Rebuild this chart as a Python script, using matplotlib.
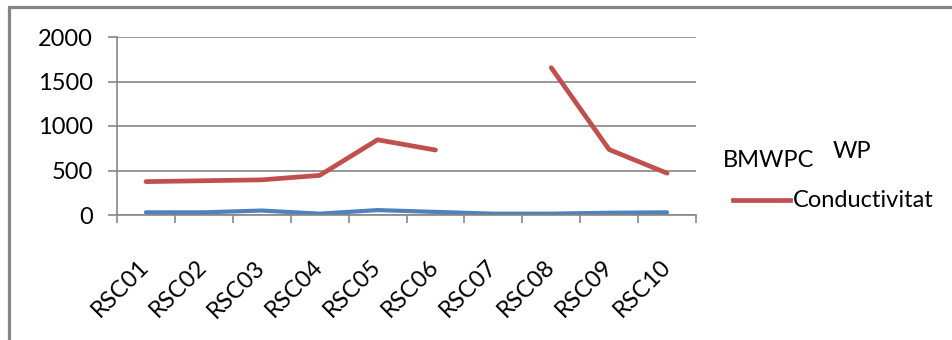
import numpy as np
import matplotlib
matplotlib.use("Agg")
import matplotlib.pyplot as plt
from matplotlib.lines import Line2D
from matplotlib.patches import Rectangle

sites = ["RSC01", "RSC02", "RSC03", "RSC04", "RSC05",
         "RSC06", "RSC07", "RSC08", "RSC09", "RSC10"]
bmwpc = [30, 30, 50, 15, 55, 35, 15, 15, 25, 30]
conductivitat = [375, 385, 395, 445, 845, 730, np.nan, 1655, 735, 470]
yticks = [0, 500, 1000, 1500, 2000]

W, H = 952, 340
GREY = "#868686"
RED = "#C0504D"
BLUE = "#4F81BD"
FS = 17

plt.rcParams["font.family"] = ["Lato", "DejaVu Sans"]

fig = plt.figure(figsize=(W / 100, H / 100), dpi=100)
ax = fig.add_axes([117 / W, 1 - 215 / H, (696 - 117) / W, (215 - 37) / H])

x = np.arange(len(sites))
ax.plot(x, bmwpc, color=BLUE, lw=3.0, solid_capstyle="round")
ax.plot(x, conductivitat, color=RED, lw=3.4, solid_capstyle="round")

ax.set_xlim(-0.5, len(sites) - 0.5)
ax.set_ylim(0, 2000)
ax.set_yticks(yticks)
ax.set_yticklabels([str(v) for v in yticks], fontsize=FS)
ax.yaxis.grid(True, color=GREY, lw=1.2)
ax.set_axisbelow(True)

ax.set_xticks(x)
ax.set_xticklabels(sites, fontsize=FS, rotation=45, ha="right",
                   va="center", rotation_mode="anchor")
ax.set_xticks(np.arange(-0.5, len(sites)), minor=True)
ax.tick_params(axis="x", which="major", length=0, pad=35)
ax.tick_params(axis="x", which="minor", length=6, width=1.2, color=GREY)
ax.tick_params(axis="y", length=6.5, width=1.2, color=GREY, pad=11)

for side in ("top", "right"):
    ax.spines[side].set_visible(False)
for side in ("left", "bottom"):
    ax.spines[side].set_color(GREY)
    ax.spines[side].set_linewidth(1.2)

# legend drawn by hand: two text-only entries and the conductivity line
fig.text(723 / W, 1 - 167 / H, "BMWPC", fontsize=FS, va="baseline")
fig.text(833 / W, 1 - 158 / H, "WP", fontsize=FS, va="baseline")
fig.add_artist(Line2D([733 / W, 790 / W], [1 - 200 / H, 1 - 200 / H],
                      color=RED, lw=3.4, transform=fig.transFigure))
fig.text(793 / W, 1 - 207 / H, "Conductivitat", fontsize=FS, va="baseline")

# chart frame, running off the right and bottom edges
fig.add_artist(Rectangle((9 / W, -0.1), 1.1, 1 - 7 / H + 0.1,
                         transform=fig.transFigure, fill=False,
                         ec=GREY, lw=2.3))

fig.savefig("out.png", dpi=100)
